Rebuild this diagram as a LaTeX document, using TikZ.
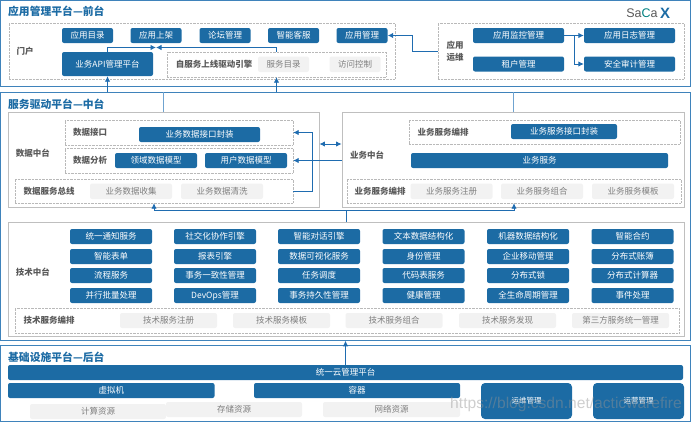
\documentclass[tikz,border=0pt]{standalone}
\usepackage{fontspec}
\usepackage{xcolor}
\setmainfont{Noto Sans CJK SC}
\setsansfont{Liberation Sans}
\usetikzlibrary{arrows.meta}

\definecolor{btnblue}{HTML}{1C6BA4}
\definecolor{flowblue}{HTML}{1F6CB0}
\definecolor{frameblue}{HTML}{3F83BB}
\definecolor{lightline}{HTML}{6FA3D0}
\definecolor{labelgray}{HTML}{595959}
\definecolor{softgray}{HTML}{F2F2F2}
\definecolor{softtext}{HTML}{7F7F7F}
\definecolor{boxgray}{HTML}{BFBFBF}

\tikzset{
	btn/.style={fill=btnblue,rounded corners=2pt,text=white,inner sep=0pt,font=\fontsize{8.5}{10}\selectfont},
	btns/.style={btn,minimum width=51pt,minimum height=15pt},
	btnm/.style={btn,minimum width=82pt,minimum height=15pt},
	soft/.style={fill=softgray,rounded corners=2pt,text=softtext,inner sep=0pt,font=\fontsize{8.5}{10}\selectfont},
	softs/.style={soft,minimum width=51pt,minimum height=15.5pt},
	softm/.style={soft,minimum width=82pt,minimum height=15.5pt},
	softl/.style={soft,minimum width=97pt,minimum height=15pt},
	plat/.style={draw=frameblue,line width=1pt,inner sep=0pt},
	zone/.style={draw=boxgray,line width=.9pt,inner sep=0pt},
	dotbox/.style={draw=gray!55,densely dotted,line width=.4pt,inner sep=0pt},
	tag/.style={text=labelgray,inner sep=0pt,font=\fontsize{8.5}{11.5}\selectfont\bfseries,align=center},
	title/.style={text=btnblue,inner sep=0pt,anchor=west,font=\fontsize{10.8}{12}\selectfont\bfseries},
	flow/.style={->,>={Latex[length=5.5pt,width=5.5pt]},draw=flowblue,line width=.9pt},
	link/.style={draw=lightline,line width=1pt}
}

\begin{document}
\begin{tikzpicture}[x=1pt,y=-1pt]
	\useasboundingbox (0,0) rectangle (693,423);
	
	% Plataformas
	\node[plat,minimum width=690pt,minimum height=85.5pt] (front) at (345.5,43.25) {};
	\node[plat,minimum width=690pt,minimum height=247.5pt] (mid) at (345.5,216.5) {};
	\node[plat,minimum width=690pt,minimum height=76pt] (back) at (345.5,383.75) {};
	\node[title] (fronttitle) at (8,11.5) {应用管理平台—前台};
	\node[title] (midtitle) at (8,104) {服务驱动平台—中台};
	\node[title] (backtitle) at (8,357) {基础设施平台—后台};
	
	% Logo
	\node[inner sep=0pt,text=labelgray,font=\sffamily\fontsize{12.5}{14}\selectfont] (logosaca) at (642,13) {Sa\textcolor{teal}{C}a};
	\node[inner sep=0pt,text=btnblue,font=\sffamily\fontsize{15}{16}\selectfont\bfseries] (logox) at (665,13) {X};
	
	% Portal
	\node[dotbox,minimum width=386pt,minimum height=56pt] (portal) at (202,51) {};
	\node[tag] (portaltag) at (25,51) {门户};
	\node[btns] (appdir) at (87.5,35.5) {应用目录};
	\node[btns] (appshelf) at (156,35.5) {应用上架};
	\node[btns] (forum) at (225,35.5) {论坛管理};
	\node[btns] (service) at (293.5,35.5) {智能客服};
	\node[btns] (appmgr) at (362,35.5) {应用管理};
	\node[btn,minimum width=91pt,minimum height=24pt] (api) at (107.5,64) {业务API管理平台};
	\node[dotbox,minimum width=219pt,minimum height=25pt] (selfup) at (276.5,64.5) {};
	\node[tag] (selfuptag) at (214,64) {自服务上线驱动引擎};
	\node[softs] (svcdir) at (283.5,64.25) {服务目录};
	\node[softs] (access) at (355,64.25) {访问控制};
	
	% Operacao
	\node[dotbox,minimum width=246pt,minimum height=56pt] (ops) at (561,51) {};
	\node[tag] (opstag) at (455,51.5) {应用\\运维};
	\node[btn,minimum width=91pt,minimum height=15pt] (monitor) at (518.5,35.5) {应用监控管理};
	\node[btn,minimum width=91pt,minimum height=15pt] (tenant) at (518.5,64) {租户管理};
	\node[btn,minimum width=91pt,minimum height=15pt] (applog) at (629.5,35.5) {应用日志管理};
	\node[btn,minimum width=91pt,minimum height=15pt] (audit) at (629.5,64) {安全审计管理};
	
	% Dados
	\node[zone,minimum width=311pt,minimum height=95pt] (datazone) at (163.5,159.5) {};
	\node[tag] (datazonetag) at (33,153) {数据中台};
	\node[dotbox,minimum width=228pt,minimum height=25pt] (dataapi) at (179,132.5) {};
	\node[tag] (dataapitag) at (90,132) {数据接口};
	\node[btn,minimum width=121pt,minimum height=15pt] (dataapibtn) at (199.5,134.5) {业务数据接口封装};
	\node[dotbox,minimum width=228pt,minimum height=25pt] (dataana) at (179,160.5) {};
	\node[tag] (dataanatag) at (90,160) {数据分析};
	\node[btnm] (domainmodel) at (156,160.5) {领域数据模型};
	\node[btnm] (usermodel) at (246,160.5) {用户数据模型};
	\node[dotbox,minimum width=278pt,minimum height=24pt] (databus) at (154,191) {};
	\node[tag] (databustag) at (49,191) {数据服务总线};
	\node[softm] (collect) at (131,191.25) {业务数据收集};
	\node[softm] (clean) at (222,191.25) {业务数据清洗};
	
	% Negocio
	\node[zone,minimum width=342pt,minimum height=95pt] (bizzone) at (513,159.5) {};
	\node[tag] (bizzonetag) at (367,155) {业务中台};
	\node[dotbox,minimum width=271pt,minimum height=24pt] (bizapi) at (544.5,132) {};
	\node[tag] (bizapitag) at (443,132) {业务服务编排};
	\node[btn,minimum width=106pt,minimum height=15pt] (bizapibtn) at (564,131.5) {业务服务接口封装};
	\node[btn,minimum width=257pt,minimum height=15pt] (bizsvc) at (539.5,160.5) {业务服务};
	\node[dotbox,minimum width=334pt,minimum height=24pt] (bizbus) at (514,191) {};
	\node[tag] (bizbustag) at (380,191) {业务服务编排};
	\node[softm] (bizreg) at (451.5,191.25) {业务服务注册};
	\node[softm] (bizcomb) at (542,191.25) {业务服务组合};
	\node[softm] (biztpl) at (633,191.25) {业务服务模板};
	
	% Tecnologia
	\node[zone,minimum width=676pt,minimum height=114pt] (techzone) at (346,279) {};
	\node[tag] (techzonetag) at (33,272.5) {技术中台};
	
	\node[btnm] (notify) at (111,236.5) {统一通知服务};
	\node[btnm] (social) at (215,236.5) {社交化协作引擎};
	\node[btnm] (dialog) at (319,236.5) {智能对话引擎};
	\node[btnm] (textdata) at (423.5,236.5) {文本数据结构化};
	\node[btnm] (machdata) at (528,236.5) {机器数据结构化};
	\node[btnm] (contract) at (632.5,236.5) {智能合约};
	
	\node[btnm] (smartform) at (111,256.5) {智能表单};
	\node[btnm] (report) at (215,256.5) {报表引擎};
	\node[btnm] (dataviz) at (319,256.5) {数据可视化服务};
	\node[btnm] (identity) at (423.5,256.5) {身份管理};
	\node[btnm] (mobile) at (528,256.5) {企业移动管理};
	\node[btnm] (ledger) at (632.5,256.5) {分布式账簿};
	
	\node[btnm] (process) at (111,275.5) {流程服务};
	\node[btnm] (txmgr) at (215,275.5) {事务一致性管理};
	\node[btnm] (sched) at (319,275.5) {任务调度};
	\node[btnm] (codetab) at (423.5,275.5) {代码表服务};
	\node[btnm] (dlock) at (528,275.5) {分布式锁};
	\node[btnm] (dcount) at (632.5,275.5) {分布式计算器};
	
	\node[btnm] (batch) at (111,295.5) {并行批量处理};
	\node[btnm] (devops) at (215,295.5) {DevOps管理};
	\node[btnm] (txlog) at (319,295.5) {事务持久性管理};
	\node[btnm] (health) at (423.5,295.5) {健康管理};
	\node[btnm] (lifecycle) at (528,295.5) {全生命周期管理};
	\node[btnm] (event) at (632.5,295.5) {事件处理};
	
	\node[dotbox,minimum width=664pt,minimum height=25pt] (techbus) at (347,320.5) {};
	\node[tag] (techbustag) at (49,320) {技术服务编排};
	\node[softl] (techreg) at (168.5,320.5) {技术服务注册};
	\node[softl] (techtpl) at (281.5,320.5) {技术服务模板};
	\node[softl] (techcomb) at (394,320.5) {技术服务组合};
	\node[softl] (techfind) at (507.5,320.5) {技术服务发现};
	\node[softl] (techother) at (620.5,320.5) {第三方服务统一管理};
	
	% Infraestrutura
	\node[btn,minimum width=675pt,minimum height=15pt] (cloud) at (345.5,372.5) {统一云管理平台};
	\node[btn,minimum width=206.5pt,minimum height=15pt] (vm) at (111.25,390.5) {虚拟机};
	\node[btn,minimum width=206pt,minimum height=15pt] (container) at (357,390.5) {容器};
	\node[soft,minimum width=136pt,minimum height=15pt] (compute) at (98,411.5) {计算资源};
	\node[soft,minimum width=136pt,minimum height=15pt] (storage) at (234,409.5) {存储资源};
	\node[soft,minimum width=137pt,minimum height=15pt] (network) at (391.5,409.5) {网络资源};
	\node[btn,rounded corners=4pt,minimum width=91pt,minimum height=36pt,font=\fontsize{7.5}{9}\selectfont] (opsmgr) at (526.5,401) {运维管理};
	\node[btn,rounded corners=4pt,minimum width=91pt,minimum height=36pt,font=\fontsize{7.5}{9}\selectfont] (runmgr) at (638.5,401) {运营管理};
	
	% Ligacoes
	\coordinate (shelfin) at (appshelf.south |- 0,47.5);
	\draw[flow] (api.north) |- (shelfin);
	\draw[flow] (selfup.north) |- (shelfin);
	\draw[flow] (api.south |- mid.north) -- (api.south);
	\draw[flow] (selfup.south |- mid.north) -- (selfup.south);
	\draw[flow] (ops.west) -- ++(-25,0) |- (appmgr.east);
	\draw[flow] (monitor.east) -- (applog.west);
	\draw[flow] (monitor.east) -- ++(10,0) |- (audit.west);
	
	\draw[link] (datazone.north) -- (datazone.north |- mid.north);
	\draw[link] (bizzone.north) -- (bizzone.north |- mid.north);
	\draw[flow,<->] ([yshift=15.5pt]datazone.east) -- ([yshift=15.5pt]bizzone.west);
	\draw[flow] (bizzone.west |- dataana.east) -- (dataana.east);
	\draw[flow] (databus.east) -- ++(19,0) |- (dataapi.east);
	
	\draw[flow] (techzone.north) -- ++(0,-11) -| (databus.south);
	\draw[flow] (techzone.north) -- ++(0,-11) -| (bizbus.south);
	\draw[flow] (cloud.north) -- (cloud.north |- mid.south);
	
	% Marca
	\node[inner sep=0pt,text=gray!85,text opacity=.45,font=\sffamily\fontsize{15.6}{17}\selectfont] (mark) at (566,404) {https://blog.csdn.net/acticwarefire};
\end{tikzpicture}
\end{document}
